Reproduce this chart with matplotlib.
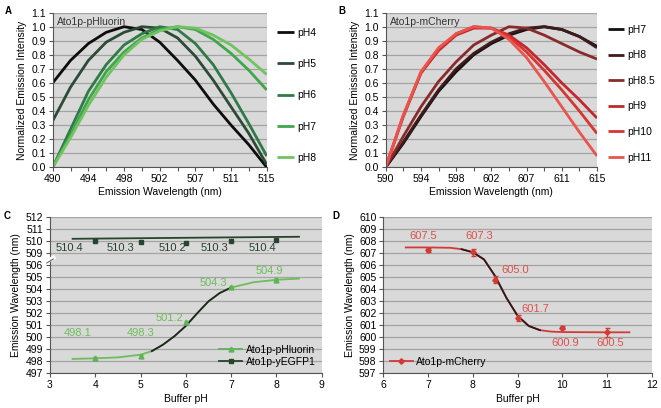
import numpy as np
import matplotlib
matplotlib.use("Agg")
import matplotlib.pyplot as plt

plt.rcParams["font.family"] = ["Liberation Sans", "DejaVu Sans"]
plt.rcParams["font.size"] = 7.5

# ---------------- data ----------------
# panels A/B: 13 sampled points along a category axis
wl_a_labels = ["490", "494", "498", "502", "507", "511", "515"]
wl_b_labels = ["590", "594", "598", "602", "607", "611", "615"]

pluorin_names = ["pH4", "pH5", "pH6", "pH7", "pH8"]
pluorin_spectra = [
    [0.60, 0.76, 0.88, 0.96, 1.00, 0.98, 0.89, 0.76, 0.62, 0.45, 0.30, 0.16, 0.00],
    [0.33, 0.57, 0.76, 0.89, 0.96, 1.00, 0.99, 0.92, 0.79, 0.62, 0.43, 0.24, 0.02],
    [0.00, 0.27, 0.54, 0.73, 0.87, 0.95, 1.00, 0.98, 0.88, 0.73, 0.53, 0.31, 0.08],
    [0.00, 0.23, 0.48, 0.68, 0.82, 0.92, 0.98, 1.00, 0.98, 0.91, 0.81, 0.69, 0.55],
    [0.00, 0.21, 0.44, 0.64, 0.80, 0.91, 0.97, 1.00, 0.99, 0.94, 0.87, 0.77, 0.66],
]

cherry_names = ["pH7", "pH8", "pH8.5", "pH9", "pH10", "pH11"]
cherry_spectra = [
    [0.00, 0.17, 0.36, 0.54, 0.68, 0.80, 0.88, 0.94, 0.98, 1.00, 0.98, 0.93, 0.86],
    [0.00, 0.18, 0.37, 0.55, 0.70, 0.81, 0.89, 0.95, 0.99, 1.00, 0.98, 0.93, 0.85],
    [0.00, 0.22, 0.43, 0.61, 0.75, 0.87, 0.94, 1.00, 0.99, 0.94, 0.88, 0.82, 0.77],
    [0.00, 0.36, 0.67, 0.83, 0.94, 0.99, 0.99, 0.94, 0.85, 0.73, 0.60, 0.48, 0.35],
    [0.00, 0.37, 0.67, 0.84, 0.95, 1.00, 0.99, 0.93, 0.82, 0.69, 0.55, 0.40, 0.24],
    [0.00, 0.37, 0.68, 0.85, 0.95, 1.00, 0.99, 0.91, 0.78, 0.61, 0.43, 0.25, 0.08],
]

# panel C
ph_c = [4, 5, 6, 7, 8]
pluorin_peak = [498.25, 498.45, 501.25, 504.2, 504.8]
pluorin_err = [0.1, 0.1, 0.15, 0.1, 0.12]
pluorin_labels = ["498.1", "498.3", "501.2", "504.3", "504.9"]
egfp_peak = [510.05, 509.95, 509.85, 510.0, 510.1]
egfp_labels = ["510.4", "510.3", "510.2", "510.3", "510.4"]
pluorin_fit_x = [3.5, 4, 4.5, 5, 5.25, 5.5, 5.75, 6, 6.25, 6.5, 6.75, 7, 7.5, 8, 8.5]
pluorin_fit_y = [498.2, 498.25, 498.33, 498.55, 498.85, 499.4, 500.1, 500.95,
                 502.0, 503.0, 503.7, 504.15, 504.6, 504.8, 504.9]
egfp_fit_x = [3.5, 8.5]
egfp_fit_y = [510.22, 510.39]

# panel D
ph_d = [7, 8, 8.5, 9, 10, 11]
cherry_peak = [607.28, 607.08, 604.8, 601.6, 600.82, 600.42]
cherry_err = [0.15, 0.3, 0.3, 0.25, 0.12, 0.38]
cherry_labels = ["607.5", "607.3", "605.0", "601.7", "600.9", "600.5"]
cherry_fit_x = [6.5, 7.0, 7.5, 7.75, 8.0, 8.25, 8.5, 8.75, 9.0, 9.25, 9.5, 9.75, 10, 11, 11.5]
cherry_fit_y = [607.5, 607.5, 607.47, 607.35, 607.1, 606.5, 605.1, 603.3, 601.8,
                600.95, 600.6, 600.48, 600.44, 600.42, 600.42]

# ---------------- style ----------------
BG = "#d9d9d9"
GRID = "#a3a3a3"
green_cols = ["#0d0d0d", "#2c4b36", "#2f7a46", "#40a64c", "#70c35f"]
red_cols = ["#111111", "#3f1b1b", "#8a2b2b", "#c1272d", "#d7352f", "#ea544e"]
GREEN_LBL = "#6dbd5c"
EGFP = "#27442f"
RED = "#d33a36"
RED_LBL = "#d9514d"
FS = 7.5

fig = plt.figure(figsize=(6.61, 4.08), dpi=100)


def style_axes(ax):
    ax.set_facecolor(BG)
    for s in ["top", "right"]:
        ax.spines[s].set_visible(False)
    for s in ["left", "bottom"]:
        ax.spines[s].set_color("#555555")
        ax.spines[s].set_linewidth(0.8)
    ax.tick_params(direction="out", length=3, width=0.8, color="#555555",
                   labelsize=FS, pad=2)
    ax.tick_params(which="minor", direction="out", length=3, width=0.8, color="#555555")
    ax.yaxis.grid(True, color=GRID, linewidth=0.9)
    ax.set_axisbelow(True)


def spectrum_panel(rect, spectra, names, cols, labels, title, letter, lspace, top):
    ax = fig.add_axes(rect)
    style_axes(ax)
    x = np.arange(len(spectra[0]))
    for ys, nm, c in zip(spectra, names, cols):
        ax.plot(x, ys, color=c, lw=2.0, label=nm, solid_joinstyle="round",
                solid_capstyle="butt")
    ax.set_xlim(0, len(x) - 1)
    ax.set_ylim(0, 1.1)
    ax.set_yticks(np.arange(0, 1.11, 0.1))
    ax.set_yticklabels([f"{v:.1f}" for v in np.arange(0, 1.11, 0.1)])
    ax.set_xticks(x[::2])
    ax.set_xticks(x[1::2], minor=True)
    ax.set_xticklabels(labels)
    ax.set_xlabel("Emission Wavelength (nm)", fontsize=FS, labelpad=2)
    ax.set_ylabel("Normalized Emission Intensity", fontsize=FS, labelpad=3)
    ax.text(0.02, 0.975, title, transform=ax.transAxes, ha="left", va="top",
            fontsize=FS, color="#333333")
    ax.legend(loc="upper left", bbox_to_anchor=(1.03, top), frameon=False,
              fontsize=FS, handlelength=1.6, handletextpad=0.3, labelspacing=lspace,
              borderaxespad=0)
    fig.text(rect[0] - 0.072, 0.985, letter, fontsize=7, fontweight="bold", va="top")
    return ax


spectrum_panel([0.0797, 0.590, 0.3238, 0.379], pluorin_spectra, pluorin_names,
               green_cols, wl_a_labels, "Ato1p-pHluorin", "A", 2.05, 0.93)
spectrum_panel([0.5835, 0.590, 0.3197, 0.379], cherry_spectra, cherry_names,
               red_cols, wl_b_labels, "Ato1p-mCherry", "B", 1.5, 0.95)


# ---------------- panel C (broken y axis via a function scale) ----------------
def fwd(v):
    v = np.asarray(v, dtype=float)
    return np.where(v <= 506, v, np.where(v >= 509, v - 2, 506 + (v - 506) / 3))


def inv(d):
    d = np.asarray(d, dtype=float)
    return np.where(d <= 506, d, np.where(d >= 507, d + 2, 506 + (d - 506) * 3))


axc = fig.add_axes([0.0756, 0.085, 0.411, 0.382])
style_axes(axc)
axc.set_yscale("function", functions=(fwd, inv))
axc.set_ylim(497, 512)
c_ticks = list(range(497, 507)) + list(range(509, 513))
axc.set_yticks(c_ticks)
axc.set_yticklabels([str(t) for t in c_ticks])
axc.yaxis.set_minor_locator(matplotlib.ticker.NullLocator())
axc.set_xlim(3, 9)
axc.set_xticks(range(3, 10))

fx = np.array(pluorin_fit_x)
fy = np.array(pluorin_fit_y)
axc.plot(fx, fy, color=GREEN_LBL, lw=1.3, solid_joinstyle="round")
mid = (fx >= 5.25) & (fx <= 7.0)
axc.plot(fx[mid], fy[mid], color="#222222", lw=1.3, solid_joinstyle="round")
axc.plot(egfp_fit_x, egfp_fit_y, color=EGFP, lw=1.3)

axc.errorbar(ph_c, pluorin_peak, yerr=pluorin_err, fmt="^", color="#5fb356",
             ms=3.5, capsize=1.5, elinewidth=0.8, zorder=4)
axc.plot(ph_c, egfp_peak, "s", color=EGFP, ms=3.3, zorder=4)

lbl_dx_g = [-0.4, 0.0, -0.35, -0.4, -0.15]
lbl_y_g = [500.35, 500.35, 501.6, 504.5, 505.5]
for x, t, dx, y in zip(ph_c, pluorin_labels, lbl_dx_g, lbl_y_g):
    axc.text(x + dx, y, t, color=GREEN_LBL, fontsize=8, ha="center", va="center")
lbl_dx_e = [-0.58, -0.45, -0.3, -0.36, -0.3]
for x, t, dx in zip(ph_c, egfp_labels, lbl_dx_e):
    axc.text(x + dx, 509.45, t, color="#2a3f30", fontsize=8, ha="center", va="center")

# handles for legend
h1, = axc.plot([], [], "-^", color="#5fb356", ms=3.5, lw=1.3)
h2, = axc.plot([], [], "-s", color=EGFP, ms=3.3, lw=1.3)
axc.legend([h1, h2], ["Ato1p-pHluorin", "Ato1p-yEGFP1"], loc="lower right",
           frameon=False, fontsize=FS, handlelength=2.2, handletextpad=0.3,
           labelspacing=0.2, borderaxespad=0.2)

# axis break mark
yt = axc.get_yaxis_transform()
axc.plot([-0.012, 0.012], [507.0, 507.9], transform=yt, color="white", lw=3,
         clip_on=False, zorder=5)
axc.plot([-0.012, 0.012], [506.6, 507.6], transform=yt, color="#555555", lw=0.7,
         clip_on=False, zorder=6)

axc.set_xlabel("Buffer pH", fontsize=FS, labelpad=3)
axc.set_ylabel("Emission Wavelength (nm)", fontsize=FS, labelpad=3)
fig.text(0.006, 0.482, "C", fontsize=7, fontweight="bold", va="top")

# ---------------- panel D ----------------
axd = fig.add_axes([0.580, 0.085, 0.406, 0.382])
style_axes(axd)
axd.set_xlim(6, 12)
axd.set_ylim(597, 610)
axd.set_yticks(range(597, 611))
axd.set_xticks(range(6, 13))

dx_ = np.array(cherry_fit_x)
dy_ = np.array(cherry_fit_y)
axd.plot(dx_, dy_, color=RED, lw=1.3, solid_joinstyle="round")
mid = (dx_ >= 7.75) & (dx_ <= 9.5)
axd.plot(dx_[mid], dy_[mid], color="#2a1a1a", lw=1.3, solid_joinstyle="round")
axd.errorbar(ph_d, cherry_peak, yerr=cherry_err, fmt="D", color=RED, ms=2.8,
             capsize=1.8, elinewidth=0.8, zorder=4)

lbl_x_d = [-0.1, 0.14, 0.45, 0.4, 0.07, 0.07]
lbl_y_d = [608.45, 608.45, 605.6, 602.4, 599.5, 599.5]
for x, t, dx, y in zip(ph_d, cherry_labels, lbl_x_d, lbl_y_d):
    axd.text(x + dx, y, t, color=RED_LBL, fontsize=8, ha="center", va="center")

h3, = axd.plot([], [], "-D", color=RED, ms=2.8, lw=1.3)
axd.legend([h3], ["Ato1p-mCherry"], loc="lower left", frameon=False, fontsize=FS,
           handlelength=2.2, handletextpad=0.3, borderaxespad=0.2)

axd.set_xlabel("Buffer pH", fontsize=FS, labelpad=3)
axd.set_ylabel("Emission Wavelength (nm)", fontsize=FS, labelpad=3)
fig.text(0.503, 0.482, "D", fontsize=7, fontweight="bold", va="top")

fig.savefig("out.png", dpi=100)
